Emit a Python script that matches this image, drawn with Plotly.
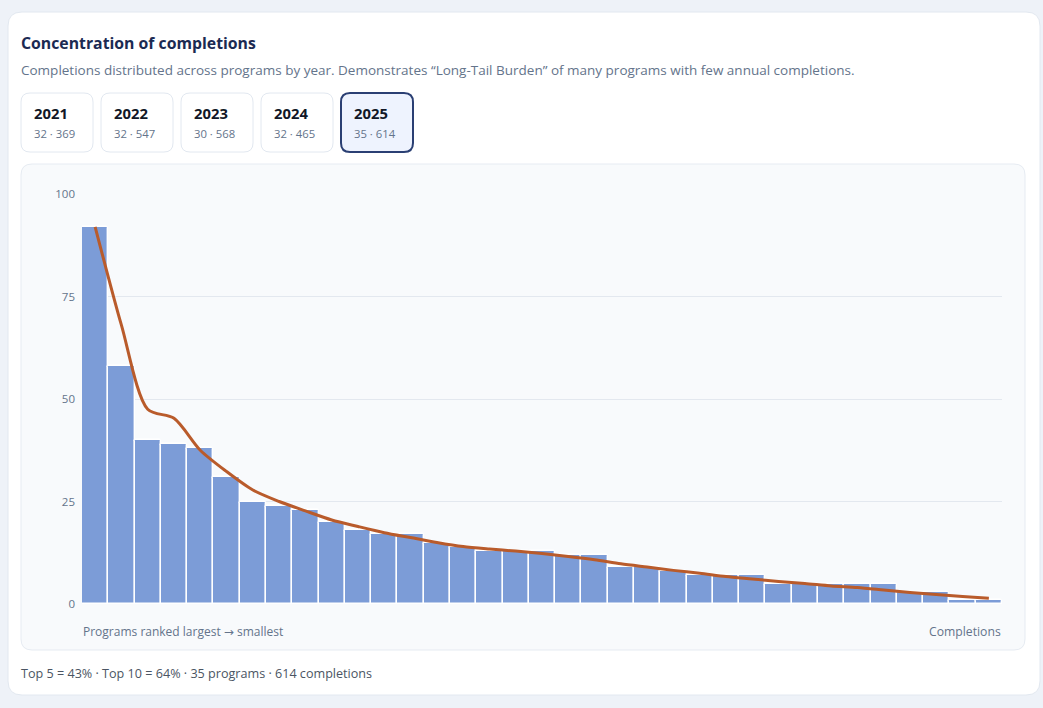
import plotly.graph_objects as go

W, H = 1043, 708

# Data (2025 selected)
ranks = list(range(1, 36))
completions = [92, 58, 40, 39, 38, 31, 25, 24, 23, 20,
               18, 17, 17, 15, 14, 13, 13, 13, 12, 12,
               9, 9, 8, 7, 7, 7, 5, 5, 5, 5,
               5, 3, 3, 1, 1]
trend = [92, 68.0, 47.5, 45.3, 37.5, 32.3, 27.8, 25.0, 22.7, 20.5,
         18.9, 17.4, 16.2, 15.0, 14.0, 13.4, 12.9, 12.3, 11.6, 10.8,
         9.8, 9.0, 8.2, 7.5, 6.7, 6.1, 5.5, 5.0, 4.4, 4.0,
         3.4, 2.8, 2.3, 1.8, 1.4]
years = ["2021", "2022", "2023", "2024", "2025"]
year_programs = [32, 32, 30, 32, 35]
year_totals = [369, 547, 568, 465, 614]
selected_year = "2025"
y_ticks = [0, 25, 50, 75, 100]

FONT = "Open Sans"
NAVY = "#1B2A52"
MUTED = "#64748B"


def px(x):
    return x / W


def py(y):
    return 1 - y / H


def rounded_rect(x0, y0, x1, y1, r):
    # pixel box -> paper path with rounded corners
    rx, ry = r / W, r / H
    a, b, c, d = px(x0), py(y0), px(x1), py(y1)
    return (f"M {a + rx},{b} L {c - rx},{b} Q {c},{b} {c},{b - ry} "
            f"L {c},{d + ry} Q {c},{d} {c - rx},{d} "
            f"L {a + rx},{d} Q {a},{d} {a},{d + ry} "
            f"L {a},{b - ry} Q {a},{b} {a + rx},{b} Z")


def label(text, x, y, size, color, anchor="left"):
    return dict(text=text, x=px(x), y=py(y), xref="paper", yref="paper",
                xanchor=anchor, yanchor="middle", showarrow=False, borderpad=0,
                font=dict(family=FONT, size=size, color=color))


fig = go.Figure()

fig.add_trace(go.Bar(
    x=ranks, y=completions,
    marker=dict(color="#7C9CD7", line=dict(color="#FFFFFF", width=1.4), cornerradius=2),
    hoverinfo="skip", showlegend=False,
))

fig.add_trace(go.Scatter(
    x=ranks, y=trend, mode="lines",
    line=dict(color="#B95B2B", width=3, shape="spline", smoothing=0.8),
    hoverinfo="skip", showlegend=False,
))

shapes = [
    # card
    dict(type="path", path=rounded_rect(8, 12, 1040, 695, 14), xref="paper", yref="paper",
         fillcolor="#FFFFFF", line=dict(color="#E2E8F0", width=1), layer="below"),
    # chart panel
    dict(type="path", path=rounded_rect(21, 164, 1025, 650, 11), xref="paper", yref="paper",
         fillcolor="#F8FAFC", line=dict(color="#E6EBF2", width=1), layer="below"),
]

arrow = "<span style='font-family:DejaVu Sans'>\u2192</span>"
annotations = [
    label("<b>Concentration of completions</b>", 20, 43, 15.8, NAVY),
    label("Completions distributed across programs by year. Demonstrates \u201cLong-Tail Burden\u201d of many programs with few annual completions.",
          20, 70, 13.5, MUTED),
    label(f"Programs ranked largest {arrow} smallest", 82, 631, 12, MUTED),
    label("Completions", 1002, 631, 12.2, MUTED, anchor="right"),
    label("Top 5 = 43% \u00b7 Top 10 = 64% \u00b7 35 programs \u00b7 614 completions", 20, 673, 12.6, "#4B5563"),
]

# year selector buttons
for i, (yr, n, tot) in enumerate(zip(years, year_programs, year_totals)):
    x0 = 21 + i * 80
    sel = yr == selected_year
    shapes.append(dict(
        type="path", path=rounded_rect(x0, 93, x0 + 72, 152, 9), xref="paper", yref="paper",
        fillcolor="#EEF3FE" if sel else "#FFFFFF",
        line=dict(color="#2A3F73" if sel else "#E2E8F0", width=2 if sel else 1), layer="below"))
    annotations.append(label(f"<b>{yr}</b>", x0 + 12, 113, 14.8, "#111827"))
    annotations.append(label(f"{n} \u00b7 {tot}", x0 + 12, 134, 11.3, MUTED))

fig.update_layout(
    width=W, height=H,
    margin=dict(l=0, r=0, t=0, b=0, pad=0, autoexpand=False),
    paper_bgcolor="#EEF2F8",
    plot_bgcolor="rgba(0,0,0,0)",
    bargap=0.0,
    shapes=shapes,
    annotations=annotations,
    font=dict(family=FONT),
    xaxis=dict(domain=[px(82), px(1002)], range=[0.5, 35.5], visible=False,
               automargin=False, fixedrange=True),
    yaxis=dict(domain=[py(604), py(194)], range=[0, 100], tickvals=y_ticks, automargin=False,
               showgrid=True, gridcolor="#E3E8EF", gridwidth=1, zeroline=False, showline=False,
               tickfont=dict(family=FONT, size=11.5, color=MUTED), ticklabelstandoff=6, fixedrange=True),
)

fig.write_html("out.html", config={"displayModeBar": False},
               post_script="document.body.style.margin='0';document.body.style.overflow='hidden';")
